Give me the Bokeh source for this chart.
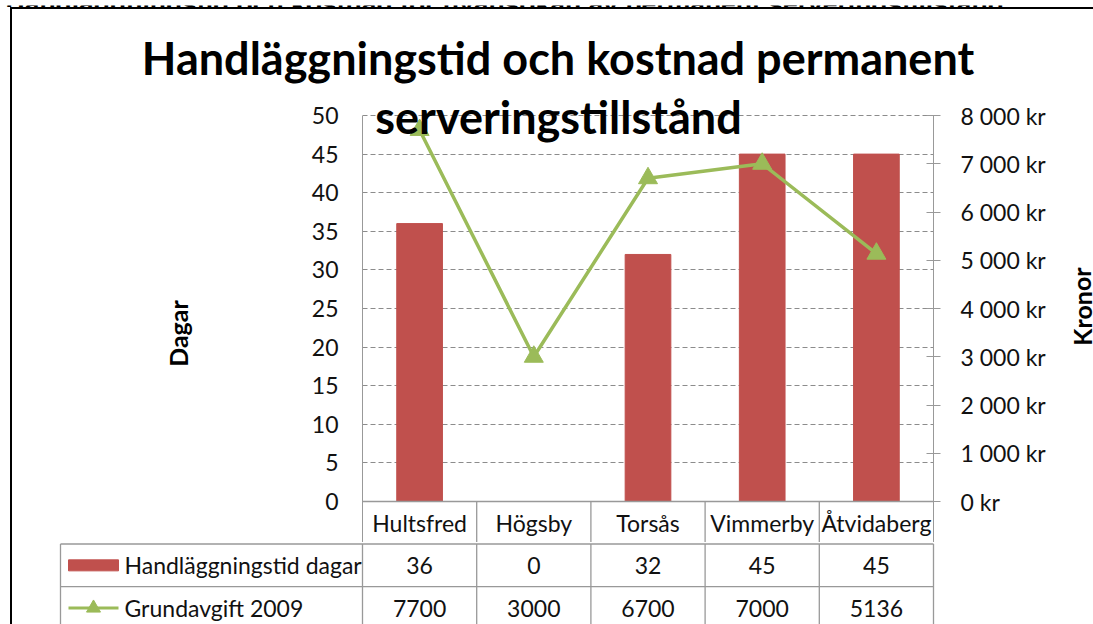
from bokeh.plotting import figure
from bokeh.models import FactorRange, Range1d, LinearAxis, FixedTicker, Label
from bokeh.layouts import column, row
from bokeh.embed import file_html
from bokeh.resources import INLINE
from bokeh.core.properties import value

# ---------------- data ----------------
categories = ["Hultsfred", "Högsby", "Torsås", "Vimmerby", "Åtvidaberg"]
days = [36, 0, 32, 45, 45]
fee = [7700, 3000, 6700, 7000, 5136]
series_names = ["Handläggningstid dagar", "Grundavgift 2009"]
days_ticks = [0, 5, 10, 15, 20, 25, 30, 35, 40, 45, 50]
kr_ticks = [0, 1000, 2000, 3000, 4000, 5000, 6000, 7000, 8000]
kr_labels = ["0 kr", "1 000 kr", "2 000 kr", "3 000 kr", "4 000 kr",
             "5 000 kr", "6 000 kr", "7 000 kr", "8 000 kr"]
title_lines = ["Handläggningstid och kostnad permanent", "serveringstillstånd"]
page_heading = "Handläggningstid och kostnad för nyansökan av permanent serveringstillstånd"
y_title_left = "Dagar"
y_title_right = "Kronor"

# ---------------- style / layout constants (page pixels) ----------------
FONT = "Lato"
BAR = "#C0504D"
LINE = "#9BBB59"
AXIS = "#999999"
GRID = "#8c8c8c"
TXT = "#111111"
SMALL = "23px"
TITLE_SIZE = "45px"
AXT_SIZE = "25px"

STRIP_H = 7                      # cut-off heading strip above the chart box
LEFT, RIGHT = 12, 1093           # page x of content
TOP = 9                          # page y of content top
FRAME_TOP = 90                   # page y where the plot row starts
P1_BOTTOM = 542                  # page y where the plot row ends
PAGE_BOTTOM = 624
P1_LEFT, P1_RIGHT = 300, 1060    # page x of the plot figure canvas
Y0, Y50 = 501, 115               # page y of 0 and 50 days
X_LEFT, X_RIGHT = 362, 933       # page x of plot area
CAT_W = (X_RIGHT - X_LEFT) / 5
PX_DAY = (Y0 - Y50) / 50
ROW_H = 42.7
BASE_FIX = 16                    # alphabetic-baseline correction for 45px text

d_lo = -(P1_BOTTOM - Y0) / PX_DAY
d_hi = 50 + (Y50 - FRAME_TOP) / PX_DAY
k = 8000 / 50


def blank(width, height, x_range, y_range):
    f = figure(x_range=x_range, y_range=y_range, width=width, height=height,
               output_backend="svg", toolbar_location=None, min_border=0)
    f.frame_align = False
    f.axis.visible = False
    f.grid.visible = False
    f.outline_line_color = None
    return f


# ---- cut-off page heading above the chart box ----
pS = blank(1093, STRIP_H, Range1d(0, 1093), Range1d(STRIP_H, 0))
pS.add_layout(Label(x=5, y=-2, text=page_heading, text_font="Liberation Sans",
                    text_font_style="bold", text_font_size="26.5px", text_align="left",
                    text_baseline="middle", text_color="black"))

# ---- title strip (first title line) ----
pT = blank(RIGHT - LEFT, FRAME_TOP - TOP, Range1d(LEFT, RIGHT), Range1d(FRAME_TOP, TOP))
pT.add_layout(Label(x=557.5, y=73 - BASE_FIX, text=title_lines[0], text_font=FONT,
                    text_font_style="bold", text_font_size=TITLE_SIZE,
                    text_align="center", text_baseline="alphabetic", text_color="black"))

# ---- left strip (left axis title) ----
pL = blank(P1_LEFT - LEFT, P1_BOTTOM - FRAME_TOP, Range1d(LEFT, P1_LEFT),
           Range1d(P1_BOTTOM, FRAME_TOP))
pL.add_layout(Label(x=177.5, y=333, text=y_title_left, angle=1.5708, text_font=FONT,
                    text_font_style="bold", text_font_size=AXT_SIZE,
                    text_align="center", text_baseline="middle", text_color="black"))

# ---- right strip (right axis title) ----
pR = blank(RIGHT - P1_RIGHT, P1_BOTTOM - FRAME_TOP, Range1d(P1_RIGHT, RIGHT),
           Range1d(P1_BOTTOM, FRAME_TOP))
pR.add_layout(Label(x=1081, y=306, text=y_title_right, angle=1.5708, text_font=FONT,
                    text_font_style="bold", text_font_size=AXT_SIZE,
                    text_align="center", text_baseline="middle", text_color="black"))

# ---- main plot ----
p1 = figure(x_range=FactorRange(*categories), y_range=Range1d(d_lo, d_hi),
            width=P1_RIGHT - P1_LEFT, height=P1_BOTTOM - FRAME_TOP,
            output_backend="svg", toolbar_location=None,
            min_border_left=X_LEFT - P1_LEFT, min_border_right=P1_RIGHT - X_RIGHT,
            min_border_top=0, min_border_bottom=0)
p1.frame_align = False
p1.outline_line_color = None
p1.xaxis.visible = False
p1.xgrid.visible = False

ya = p1.yaxis[0]
ya.ticker = FixedTicker(ticks=days_ticks)
ya.bounds = (d_lo, 50)
ya.axis_line_color = AXIS
ya.major_tick_out = 0
ya.major_tick_in = 0
ya.minor_tick_out = 0
ya.minor_tick_in = 0
ya.major_label_standoff = 24
ya.major_label_text_font = FONT
ya.major_label_text_font_size = SMALL
ya.major_label_text_color = TXT

p1.ygrid.ticker = FixedTicker(ticks=days_ticks[1:])
p1.ygrid.grid_line_color = GRID
p1.ygrid.grid_line_dash = "5 3"
p1.ygrid.grid_line_width = 1

p1.extra_y_ranges = {"kr": Range1d(d_lo * k, d_hi * k)}
ax_r = LinearAxis(y_range_name="kr", ticker=FixedTicker(ticks=kr_ticks),
                  major_label_overrides=dict(zip(kr_ticks, kr_labels)),
                  bounds=(d_lo * k, 8000))
ax_r.axis_line_color = AXIS
ax_r.major_tick_line_color = AXIS
ax_r.major_tick_in = 7
ax_r.major_tick_out = 7
ax_r.minor_tick_in = 0
ax_r.minor_tick_out = 0
ax_r.major_label_standoff = 20
ax_r.major_label_text_font = FONT
ax_r.major_label_text_font_size = SMALL
ax_r.major_label_text_color = TXT
p1.add_layout(ax_r, "right")

p1.vbar(x=categories, top=days, width=0.4, fill_color=BAR, line_color=BAR)
p1.line(x=categories, y=fee, y_range_name="kr", line_color=LINE, line_width=3.5)
p1.scatter(x=categories, y=fee, y_range_name="kr", marker="triangle", size=19,
           fill_color=LINE, line_color=LINE)

# second title line (overlaps the plot area)
p1.add_layout(Label(x=(558 - X_LEFT) / CAT_W, y=(Y0 - (132 - BASE_FIX)) / PX_DAY,
                    text=title_lines[1], text_font=FONT, text_font_style="bold",
                    text_font_size=TITLE_SIZE, text_align="center",
                    text_baseline="alphabetic", text_color="black"))

# first table row (category names) lives under the plot area
n = len(categories)
row1_y = -(522.5 - Y0) / PX_DAY
p1.segment(x0=[0], y0=[0], x1=[n], y1=[0], line_color=AXIS, line_width=1.3)
p1.segment(x0=list(range(1, n)), y0=[0] * (n - 1), x1=list(range(1, n)),
           y1=[d_lo] * (n - 1), line_color=AXIS, line_width=1.3)
p1.text(x=categories, y=[row1_y] * n, text=categories, text_font=value(FONT),
        text_font_size=SMALL, text_align="center", text_baseline="middle", text_color=TXT)

# ---------------- data table rows 2-3 ----------------
x0 = -(X_LEFT - 56) / CAT_W
x1 = 5 + 3 / CAT_W
tl = -(X_LEFT - 60) / CAT_W
y_top = 1 - (543.5 - P1_BOTTOM) / ROW_H
y_bot = 1 + (PAGE_BOTTOM - 543.5) / ROW_H
p2 = figure(x_range=Range1d(x0, x1), y_range=Range1d(y_bot, y_top),
            width=RIGHT - LEFT, height=PAGE_BOTTOM - P1_BOTTOM,
            output_backend="svg", toolbar_location=None,
            min_border_left=56 - LEFT, min_border_right=RIGHT - 936, min_border_top=0,
            min_border_bottom=0)
p2.frame_align = False
p2.axis.visible = False
p2.grid.visible = False
p2.outline_line_color = None

p2.segment(x0=[tl, tl], y0=[1, 2], x1=[n, n], y1=[1, 2], line_color=AXIS, line_width=1.3)
vx = list(range(n + 1)) + [tl]
p2.segment(x0=vx, y0=[1] * (n + 2), x1=vx, y1=[3] * (n + 2), line_color=AXIS, line_width=1.3)

centers = [i + 0.5 for i in range(n)]
text_kw = dict(text_font=value(FONT), text_font_size=SMALL, text_align="center",
               text_baseline="middle", text_color=TXT)
p2.text(x=centers, y=[1.5] * n, text=[str(v) for v in days], **text_kw)
p2.text(x=centers, y=[2.5] * n, text=[str(v) for v in fee], **text_kw)

kx0 = (68 - X_LEFT) / CAT_W
kx1 = (118 - X_LEFT) / CAT_W
kc = (kx0 + kx1) / 2
p2.rect(x=[kc], y=[1.5], width=kx1 - kx0, height=11, height_units="screen",
        fill_color=BAR, line_color=BAR)
p2.line(x=[kx0, kx1], y=[2.5, 2.5], line_color=LINE, line_width=3)
p2.scatter(x=[kc], y=[2.5], marker="triangle", size=14, fill_color=LINE, line_color=LINE)
p2.text(x=[(124 - X_LEFT) / CAT_W] * 2, y=[1.5, 2.5], text=series_names,
        text_font=value(FONT), text_font_size=SMALL, text_align="left",
        text_baseline="middle", text_color=TXT)

box = column(pT, row(pL, p1, pR, spacing=0), p2, spacing=0,
             styles={"border-top": "2px solid #000", "border-left": "2px solid #000",
                     "margin-left": "10px"})
layout = column(pS, box, spacing=0)

open("out.html", "w").write(file_html(layout, INLINE))
